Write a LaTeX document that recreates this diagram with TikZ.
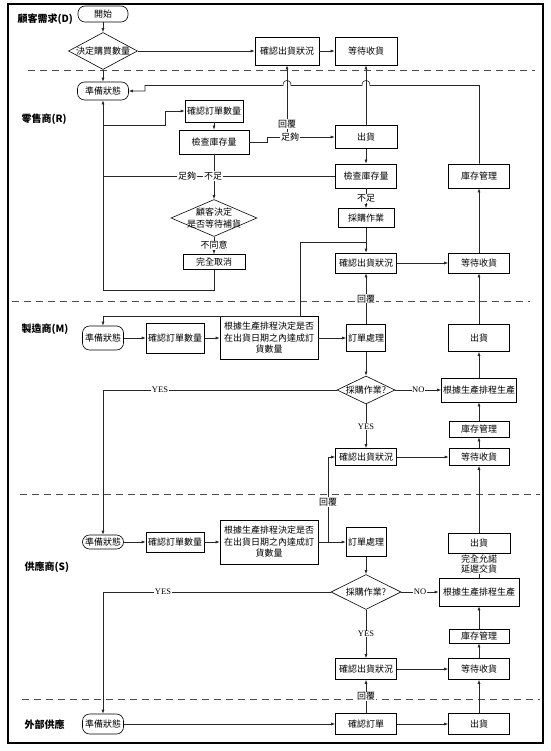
\documentclass[tikz,border=0pt]{standalone}
\usepackage{fontspec}
\setmainfont{Liberation Serif}
\newfontfamily\cjk{Noto Sans CJK TC}
\usepackage{tikz}
\usetikzlibrary{shapes.geometric,arrows.meta}

\begin{document}
\begin{tikzpicture}[x=1pt,y=-1pt,line width=0.6pt,
    box/.style={draw,rectangle,inner sep=1pt,font=\cjk\fontsize{9}{11}\selectfont},
    term/.style={draw,rectangle,rounded corners=7pt,inner xsep=2pt,inner ysep=1pt,font=\cjk\fontsize{9}{11}\selectfont},
    dec/.style={draw,diamond,inner sep=0pt},
    txt/.style={inner sep=0pt,align=center,font=\cjk\fontsize{9}{12}\selectfont},
    lbl/.style={fill=white,inner sep=0.6pt,align=center,font=\cjk\fontsize{9}{10.5}\selectfont},
    yn/.style={fill=white,inner sep=0.6pt,font=\fontsize{8.5}{10}\selectfont},
    lane/.style={anchor=west,font=\cjk\bfseries\fontsize{10}{12}\selectfont},
    sep/.style={draw=black!70,line width=0.8pt,dash pattern=on 7pt off 5pt},
    arr/.style={draw=black!85,-{Latex[length=4pt,width=3pt]}},
    ln/.style={draw=black!85}]

    \useasboundingbox (0,0) rectangle (550,751);
    \draw[line width=1.5pt] (8,4) rectangle (543,743);

    % lane borders
    \draw[sep] (28,70) -- (535,70);
    \draw[sep] (12,301) -- (530,301);
    \draw[sep] (20,494) -- (540,494);
    \draw[sep] (22,699) -- (540,699);

    \node[lane] (lD) at (14,19) {顧客需求(D)};
    \node[lane] (lR) at (18,119) {零售商(R)};
    \node[lane] (lM) at (18,329) {製造商(M)};
    \node[lane] (lS) at (21,567) {供應商(S)};
    \node[lane] (lX) at (21,725) {外部供應};

    % customer
    \node[term,minimum width=50pt,minimum height=16pt] (start) at (103,14) {開始};
    \node[dec,minimum width=69pt,minimum height=37pt] (dBuy) at (103,51) {};
    \node[txt] (dBuyT) at (dBuy) {決定購買數量};
    \node[box,minimum width=64pt,minimum height=28pt] (dConf) at (287,51) {確認出貨狀況};
    \node[box,minimum width=62pt,minimum height=28pt] (dWait) at (366,51) {等待收貨};

    % retailer
    \node[term,minimum width=51pt,minimum height=18pt] (rReady) at (103,91) {準備狀態};
    \node[box,minimum width=58pt,minimum height=22pt] (rOrder) at (214,111) {確認訂單數量};
    \node[box,minimum width=70pt,minimum height=24pt] (rChk) at (214,142) {檢查庫存量};
    \node[box,minimum width=62pt,minimum height=23pt] (rShip) at (366,137) {出貨};
    \node[box,minimum width=61pt,minimum height=24pt] (rChk2) at (366,176) {檢查庫存量};
    \node[box,minimum width=61pt,minimum height=24pt] (rInv) at (479,176) {庫存管理};
    \node[dec,minimum width=86pt,minimum height=37pt] (rAsk) at (214,218) {};
    \node[txt] (rAskT) at (rAsk) {顧客決定\\是否等待補貨};
    \node[box,minimum width=62pt,minimum height=15pt] (rCancel) at (214,262) {完全取消};
    \node[box,minimum width=56pt,minimum height=19pt] (rBuy) at (366,218) {採購作業};
    \node[box,minimum width=61pt,minimum height=20pt] (rConf) at (366,263) {確認出貨狀況};
    \node[box,minimum width=61pt,minimum height=20pt] (rWait) at (479,263) {等待收貨};

    % manufacturer
    \node[term,minimum width=41pt,minimum height=24pt] (mReady) at (103,338) {準備狀態};
    \node[box,minimum width=58pt,minimum height=30pt] (mOrder) at (175,338) {確認訂單數量};
    \node[box,minimum width=98pt,minimum height=43pt,align=center,font=\cjk\fontsize{9}{11.5}\selectfont] (mPlan) at (269,338) {根據生產排程決定是否\\在出貨日期之內達成訂\\貨數量};
    \node[box,minimum width=39pt,minimum height=27pt] (mProc) at (366,338) {訂單處理};
    \node[box,minimum width=61pt,minimum height=27pt] (mShip) at (479,338) {出貨};
    \node[dec,minimum width=58pt,minimum height=28pt] (mAsk) at (366,390) {};
    \node[txt] (mAskT) at (mAsk) {採購作業?};
    \node[box,minimum width=75pt,minimum height=24pt] (mMake) at (479,390) {根據生產排程生產};
    \node[box,minimum width=60pt,minimum height=16pt] (mInv) at (479,429) {庫存管理};
    \node[box,minimum width=61pt,minimum height=17pt] (mConf) at (366,457) {確認出貨狀況};
    \node[box,minimum width=60pt,minimum height=17pt] (mWait) at (479,457) {等待收貨};

    % supplier
    \node[term,minimum width=41pt,minimum height=14pt] (sReady) at (103,542) {準備狀態};
    \node[box,minimum width=58pt,minimum height=20pt] (sOrder) at (175,542) {確認訂單數量};
    \node[box,minimum width=98pt,minimum height=44pt,align=center,font=\cjk\fontsize{9}{11.5}\selectfont] (sPlan) at (269,542) {根據生產排程決定是否\\在出貨日期之內達成訂\\貨數量};
    \node[box,minimum width=40pt,minimum height=29pt] (sProc) at (366,542) {訂單處理};
    \node[box,minimum width=62pt,minimum height=20pt] (sShip) at (479,543) {出貨};
    \node[dec,minimum width=70pt,minimum height=35pt] (sAsk) at (366,592) {};
    \node[txt] (sAskT) at (sAsk) {採購作業?};
    \node[box,minimum width=80pt,minimum height=28pt] (sMake) at (479,592) {根據生產排程生產};
    \node[box,minimum width=60pt,minimum height=14pt] (sInv) at (479,636) {庫存管理};
    \node[box,minimum width=61pt,minimum height=21pt] (sConf) at (366,669) {確認出貨狀況};
    \node[box,minimum width=61pt,minimum height=21pt] (sWait) at (479,669) {等待收貨};

    % outside supply
    \node[term,minimum width=41pt,minimum height=20pt] (xReady) at (103,724) {準備狀態};
    \node[box,minimum width=61pt,minimum height=21pt] (xOrder) at (366,724) {確認訂單};
    \node[box,minimum width=61pt,minimum height=21pt] (xShip) at (479,724) {出貨};

    % bends and joins
    \coordinate (hopA) at (287,85.5);
    \coordinate (hopB) at (366,85.5);
    \coordinate (rBack) at (145,85.5);
    \coordinate (rBranch) at (103,125);
    \coordinate (rBend) at (165,125);
    \coordinate (rMid) at (103,176);
    \coordinate (rLoop) at (103,290);
    \coordinate (rStep) at (267,137);
    \coordinate (rRep) at (287,137);
    \coordinate (rJoin) at (366,242);
    \coordinate (mDrop) at (300,316);
    \coordinate (mYes) at (103,390);
    \coordinate (sRep) at (328,542);
    \coordinate (sYes) at (103,592);

    % customer flow
    \draw[arr] (start) -- (dBuy);
    \draw[arr] (dBuy) -- (dConf);
    \draw[arr] (dConf) -- (dWait);
    \draw[arr] (dBuy) -- (rReady);

    % retailer flow
    \draw[arr] ([xshift=0.5pt]rInv.north) |- ([xshift=4pt]hopB) .. controls +(0,-7) and +(0,-7) .. ([xshift=-4pt]hopB)
        -- ([xshift=4pt]hopA) .. controls +(0,-7) and +(0,-7) .. ([xshift=-4pt]hopA) -- (rBack) |- (rReady.east);
    \draw[arr] (rCancel.south) |- (rLoop) -- (rReady);
    \draw[arr] (rBranch) -- (rBend) |- (rOrder.west);
    \draw[arr] (rOrder) -- (rChk);
    \draw[arr] (rChk.east) -| (rStep) -- (rShip);
    \draw[arr] (rRep) -- (dConf);
    \draw[arr] (rShip) -- (dWait);
    \draw[arr] (rShip) -- (rChk2);
    \draw[ln] (rChk2.west) -- (rMid);
    \draw[arr] (rChk) -- (rAsk);
    \draw[arr] (rAsk) -- node[lbl] (rNo) {不同意} (rCancel);
    \draw[arr] (rChk2) -- node[lbl] (rLack2) {不足} (rBuy);
    \draw[arr] (rBuy) -- (rConf);
    \draw[arr] (rJoin) -| (mDrop) -| (mReady.north);
    \draw[arr] (rConf) -- (rWait);
    \draw[arr] (rWait) -- (rInv);
    \draw[arr] (mProc) -- node[lbl] (mRep) {回覆} (rConf);
    \draw[arr] (mShip) -- (rWait);
    \node[lbl] (rRepL) at (287,124) {回覆};
    \node[lbl] (rOk) at (290,137) {足夠};
    \node[lbl] (rOk2) at (187,176) {足夠};
    \node[lbl] (rLack) at (213,176) {不足};

    % manufacturer flow
    \draw[arr] (mReady) -- (mOrder);
    \draw[arr] (mOrder) -- (mPlan);
    \draw[arr] (mPlan) -- (mProc);
    \draw[arr] (mProc) -- (mAsk);
    \draw[arr] (mAsk) -- node[yn] (mNo) {NO} (mMake);
    \draw[arr] (mMake) -- (mShip);
    \draw[arr] (mAsk) -- (mYes) -- (sReady);
    \node[yn] (mYesL) at (160,390) {YES};
    \draw[arr] (mAsk) -- node[yn] (mYes2) {YES} (mConf);
    \draw[arr] (mConf) -- (mWait);
    \draw[arr] (mWait) -- (mInv);
    \draw[arr] (mInv) -- (mMake);
    \draw[arr] (sShip) -- (mWait);
    \draw[arr] (sRep) |- (mConf.west);
    \node[lbl] (sRepL) at (328,502) {回覆};

    % supplier flow
    \draw[arr] (sReady) -- (sOrder);
    \draw[arr] (sOrder) -- (sPlan);
    \draw[arr] (sPlan) -- (sProc);
    \draw[arr] (sProc) -- (sAsk);
    \draw[arr] (sAsk) -- node[yn] (sNo) {NO} (sMake);
    \draw[arr] (sMake) -- (sShip);
    \node[lbl,font=\cjk\fontsize{9}{10}\selectfont] (sPromise) at (479,564) {完全允諾\\延遲交貨};
    \draw[arr] (sAsk) -- (sYes) -- (xReady);
    \node[yn] (sYesL) at (163,592) {YES};
    \draw[arr] (sAsk) -- node[yn] (sYes2) {YES} (sConf);
    \draw[arr] (sConf) -- (sWait);
    \draw[arr] (sWait) -- (sInv);
    \draw[arr] (sInv) -- (sMake);
    \draw[arr] (xShip) -- (sWait);

    % outside supply flow
    \draw[arr] (xReady) -- (xOrder);
    \draw[arr] (xOrder) -- (xShip);
    \draw[arr] (xOrder) -- node[lbl] (xRep) {回覆} (sConf);
\end{tikzpicture}
\end{document}
